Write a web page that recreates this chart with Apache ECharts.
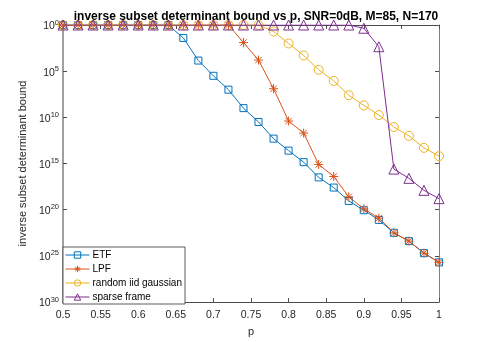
<!DOCTYPE html>
<html>
<head>
<meta charset="utf-8">
<script src="https://cdn.jsdelivr.net/npm/echarts@6/dist/echarts.min.js"></script>
<style>
    html, body {margin: 0; padding: 0; background: #fff;}
    #chartId {width: 485px; height: 342px;}
</style>
</head>
<body>
<div id="chartId"></div>
<script>
// p 取值
var pArray = [0.5, 0.52, 0.54, 0.56, 0.58, 0.6, 0.62, 0.64, 0.66, 0.68, 0.7, 0.72, 0.74,
    0.76, 0.78, 0.8, 0.82, 0.84, 0.86, 0.88, 0.9, 0.92, 0.94, 0.96, 0.98, 1];
// 各曲线的指数 (10^x)
var etfExp = [0, 0, 0, 0, 0, 0, 0, 0, 1.4, 3.85, 5.5, 7.0, 9.0,
    10.5, 12.3, 13.6, 14.85, 16.5, 17.6, 19.05, 20.05, 21.1, 22.5, 23.4, 24.7, 25.7];
var lpfExp = [0, 0, 0, 0, 0, 0, 0, 0, 0, 0, 0, 0, 1.9,
    3.8, 6.9, 10.4, 11.7, 15.1, 16.4, 18.6, 19.9, 20.9, 22.5, 23.4, 24.7, 25.7];
var gaussExp = [0, 0, 0, 0, 0, 0, 0, 0, 0, 0, 0, 0, 0,
    0, 0.7, 2.0, 3.3, 4.85, 6.05, 7.6, 8.7, 9.75, 11.05, 12.0, 13.3, 14.2];
var sparseExp = [0, 0, 0, 0, 0, 0, 0, 0, 0, 0, 0, 0, 0,
    0, 0, 0, 0, 0, 0, 0, 0.35, 2.35, 15.6, 16.6, 17.9, 18.8];
var xTicks = [0.5, 0.55, 0.6, 0.65, 0.7, 0.75, 0.8, 0.85, 0.9, 0.95, 1];
var yTickExp = [0, 5, 10, 15, 20, 25, 30];

var seriesNames = ['ETF', 'LPF', 'random iid gaussian', 'sparse frame'];
var seriesColors = ['#0072BD', '#D95319', '#EDB120', '#7E2F8E'];

function toPoints(expArray) {
    var out = [];
    for (var i = 0; i < pArray.length; i++) {
        out.push([pArray[i], Math.pow(10, expArray[i])]);
    }
    return out;
}

var starPath = 'path://M0,-5L0,5M-5,0L5,0M-3.6,-3.6L3.6,3.6M-3.6,3.6L3.6,-3.6';

function makeSeries(idx, data, symbol, size) {
    return {
        name: seriesNames[idx],
        type: 'line',
        data: toPoints(data),
        symbol: symbol,
        symbolSize: size,
        showAllSymbol: true,
        lineStyle: {color: seriesColors[idx], width: 1},
        itemStyle: {color: 'transparent', borderColor: seriesColors[idx], borderWidth: 1},
        emphasis: {disabled: true},
        animation: false,
        z: 2 + idx
    };
}

var textColor = '#262626';
var axisColor = '#808080';
var chart = echarts.init(document.getElementById('chartId'));

var option = {
    animation: false,
    textStyle: {fontFamily: 'Liberation Sans, Arial, sans-serif'},
    title: {
        text: 'inverse subset determinant bound vs p, SNR=0dB, M=85, N=170',
        left: 251,
        textAlign: 'center',
        top: 6,
        textStyle: {fontSize: 12, fontWeight: 'bold', color: '#000'}
    },
    grid: {left: 63, right: 46, top: 25, bottom: 39},
    legend: {
        orient: 'vertical',
        left: 63,
        top: 247,
        padding: [3, 3, 2, 2],
        itemWidth: 24,
        itemHeight: 8,
        itemGap: 4,
        backgroundColor: '#fff',
        borderColor: '#333',
        borderWidth: 0.8,
        borderRadius: 0,
        lineStyle: {width: 1},
        itemStyle: {borderWidth: 1},
        textStyle: {fontSize: 10, color: '#000', padding: [0, 0, 0, -2]},
        data: seriesNames
    },
    xAxis: [{
        type: 'value',
        min: 0.5,
        max: 1,
        interval: 0.05,
        name: 'p',
        nameLocation: 'middle',
        nameGap: 23,
        nameTextStyle: {fontSize: 11, color: textColor},
        axisLine: {lineStyle: {color: '#4d4d4d', width: 1}},
        axisTick: {inside: true, length: 4, lineStyle: {color: '#4d4d4d'}},
        axisLabel: {fontSize: 10.5, color: textColor, margin: 8,
            formatter: function (v) { return xTicks.indexOf(+v.toFixed(2)) >= 0 ? String(+v.toFixed(2)) : ''; }},
        splitLine: {show: false}
    }, {
        type: 'value',
        position: 'top',
        min: 0.5,
        max: 1,
        interval: 0.05,
        axisLine: {lineStyle: {color: '#4d4d4d', width: 1}},
        axisTick: {inside: true, length: 4, lineStyle: {color: '#4d4d4d'}},
        axisLabel: {show: false},
        splitLine: {show: false}
    }],
    yAxis: [{
        type: 'log',
        logBase: 100000,
        min: 1,
        max: 1e30,
        inverse: true,
        name: 'inverse subset determinant bound',
        nameLocation: 'middle',
        nameGap: 25,
        nameTextStyle: {fontSize: 11, color: textColor},
        axisLine: {lineStyle: {color: axisColor, width: 1.5}},
        axisTick: {inside: true, length: 4, lineStyle: {color: '#4d4d4d'}},
        axisLabel: {
            margin: 4,
            formatter: function (v) {
                var e = Math.round(Math.log(v) / Math.LN10);
                return '{b|10}{s|' + e + '}';
            },
            rich: {
                b: {fontSize: 10.5, color: textColor, padding: [3, 0, 0, 0]},
                s: {fontSize: 7.5, color: textColor, padding: [0, 0, 5, 0]}
            }
        },
        splitLine: {show: false}
    }, {
        type: 'log',
        logBase: 100000,
        min: 1,
        max: 1e30,
        inverse: true,
        position: 'right',
        axisLine: {lineStyle: {color: axisColor, width: 1}},
        axisTick: {inside: true, length: 4, lineStyle: {color: '#4d4d4d'}},
        axisLabel: {show: false},
        splitLine: {show: false}
    }],
    series: [
        makeSeries(0, etfExp, 'rect', 7),
        makeSeries(1, lpfExp, starPath, 9),
        makeSeries(2, gaussExp, 'circle', 9),
        makeSeries(3, sparseExp, 'triangle', 10)
    ]
};
chart.setOption(option);
</script>
</body>
</html>
